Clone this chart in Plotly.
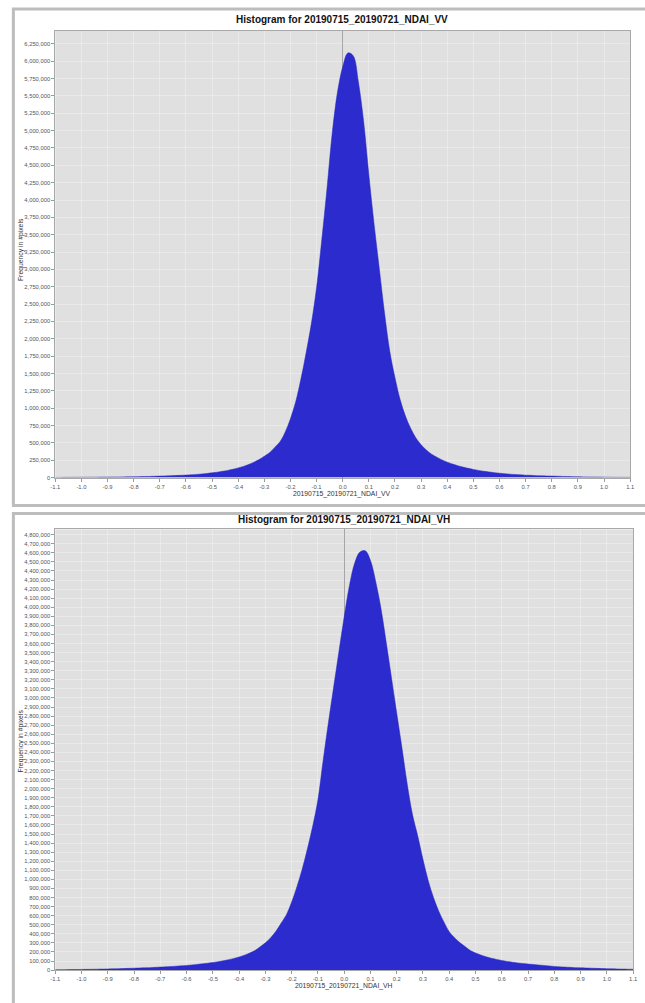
import numpy as np
import plotly.graph_objects as go

# ---------------- data ----------------
bin_centers = np.round(np.arange(-1.10, 1.1001, 0.02), 2)

vv_counts = [
    2000, 2500, 3000, 3500, 4000, 4500, 5000, 5500, 6000, 7000,
    7500, 8500, 9000, 10000, 11000, 12000, 13500, 15000, 16500, 18500,
    21000, 23500, 26000, 29000, 32000, 36000, 40000, 45000, 51000, 59000,
    68000, 78000, 90000, 103000, 120000, 139000, 161000, 188000, 221000, 259000,
    308000, 359000, 435000, 517000, 657000, 848000, 1091000, 1420000, 1800000, 2220000,
    2740000, 3430000, 4170000, 4970000, 5555000, 5920000, 6120000, 6080000, 5700000, 5130000,
    4360000, 3650000, 3010000, 2370000, 1820000, 1440000, 1120000, 886000, 709000, 572000,
    473000, 397000, 337000, 294000, 255000, 222000, 195000, 171000, 151000, 133000,
    117000, 103000, 91000, 81000, 71000, 63000, 56000, 49000, 44000, 40000,
    35000, 32000, 28000, 25000, 23000, 21000, 19000, 17000, 15000, 13000,
    12000, 10000, 9000, 8000, 7000, 6000, 5000, 4000, 4000, 3000,
    3000,
]

vh_counts = [
    4000, 4500, 5000, 5500, 6000, 7000, 8000, 9000, 10000, 11000,
    12000, 14000, 15000, 17000, 19000, 21000, 23000, 25000, 27000, 30000,
    33000, 36000, 39000, 43000, 47000, 51000, 56500, 62300, 68600, 75600,
    83400, 92500, 103000, 115000, 129000, 144000, 164000, 188000, 215000, 257000,
    301000, 357000, 428000, 518000, 611000, 750000, 920000, 1112000, 1338000, 1585000,
    1879000, 2314000, 2730000, 3123000, 3513000, 3894000, 4239000, 4487000, 4608000, 4622000,
    4516000, 4281000, 3985000, 3610000, 3221000, 2832000, 2448000, 2048000, 1714000, 1478000,
    1218000, 985000, 800000, 650000, 528000, 422000, 357000, 303000, 260000, 216000,
    189000, 166000, 146000, 131000, 118000, 106000, 95700, 86500, 79300, 72700,
    66600, 61000, 56000, 51000, 45700, 40600, 36200, 33000, 30000, 27000,
    25000, 23000, 21000, 19000, 17000, 15000, 14000, 12000, 11000, 10000,
    9000,
]

x_tick_vals = [-1.1, -1.0, -0.9, -0.8, -0.7, -0.6, -0.5, -0.4, -0.3, -0.2, -0.1,
               0.0, 0.1, 0.2, 0.3, 0.4, 0.5, 0.6, 0.7, 0.8, 0.9, 1.0, 1.1]
x_tick_text = ["-1.1", "-1.0", "-0.9", "-0.8", "-0.7", "-0.6", "-0.5", "-0.4", "-0.3", "-0.2", "-0.1",
               "0.0", "0.1", "0.2", "0.3", "0.4", "0.5", "0.6", "0.7", "0.8", "0.9", "1.0", "1.1"]

vv_title = "Histogram for 20190715_20190721_NDAI_VV"
vh_title = "Histogram for 20190715_20190721_NDAI_VH"
vv_xlabel = "20190715_20190721_NDAI_VV"
vh_xlabel = "20190715_20190721_NDAI_VH"
y_label = "Frequency in #pixels"

# ---------------- layout constants ----------------
W, H = 645, 1003
FONT = "Liberation Sans, Arial, sans-serif"
BAR_FILL = "rgb(43,43,206)"
BAR_EDGE = "rgb(36,36,190)"
PLOT_BG = "#E0E0E0"
GRID = "rgba(248,248,248,0.4)"


def py(px):
    return 1 - px / H


def px_(x):
    return x / W


fig = go.Figure()

fig.add_trace(go.Scatter(
    x=bin_centers, y=vv_counts, mode="lines", fill="tozeroy",
    line=dict(color=BAR_EDGE, width=0.5, shape="spline", smoothing=1.0),
    fillcolor=BAR_FILL, xaxis="x", yaxis="y", showlegend=False, hoverinfo="skip"))

fig.add_trace(go.Scatter(
    x=bin_centers, y=vh_counts, mode="lines", fill="tozeroy",
    line=dict(color=BAR_EDGE, width=0.5, shape="spline", smoothing=1.0),
    fillcolor=BAR_FILL, xaxis="x2", yaxis="y2", showlegend=False, hoverinfo="skip"))

tickfont = dict(family=FONT, size=5.8, color="#555555")

common_x = dict(
    range=[-1.1, 1.1], tickmode="array", tickvals=x_tick_vals, ticktext=x_tick_text,
    ticks="outside", ticklen=3, tickcolor="#9A9A9A", tickfont=tickfont,
    showgrid=True, gridcolor=GRID, gridwidth=1,
    showline=True, linecolor="#A8A8A8", linewidth=1, mirror=True,
    zeroline=True, zerolinecolor="#A6A6A6", zerolinewidth=1, fixedrange=True,
)
common_y = dict(
    tickformat=",d", ticks="outside", ticklen=3, tickcolor="#9A9A9A", tickfont=tickfont,
    showgrid=True, gridcolor=GRID, gridwidth=1,
    showline=True, linecolor="#A8A8A8", linewidth=1, mirror=True,
    zeroline=False, fixedrange=True,
)

fig.update_layout(
    width=W, height=H, autosize=False,
    margin=dict(l=0, r=0, t=0, b=0),
    paper_bgcolor="white", plot_bgcolor=PLOT_BG,
    showlegend=False,
    xaxis=dict(domain=[px_(51), px_(634)], anchor="y", **common_x),
    yaxis=dict(domain=[py(479), py(31)], anchor="x", range=[0, 6437000],
               tick0=0, dtick=250000, **common_y),
    xaxis2=dict(domain=[px_(51), px_(637)], anchor="y2", **common_x),
    yaxis2=dict(domain=[py(973), py(531)], anchor="x2", range=[0, 4858000],
                tick0=0, dtick=100000, **common_y),
)

# panel frames
frame = dict(color="#BDBDBD", width=3)
fig.add_shape(type="rect", xref="paper", yref="paper",
              x0=px_(8.5), x1=1.05, y0=py(507), y1=py(9), line=frame, layer="below")
fig.add_shape(type="rect", xref="paper", yref="paper",
              x0=px_(8.5), x1=1.05, y0=py(1015), y1=py(515), line=frame, layer="below")

# titles
title_font = dict(family=FONT, size=10, color="#111111")
label_font = dict(family=FONT, size=6.8, color="#333333")
fig.add_annotation(text="<b>" + vv_title + "</b>", xref="paper", yref="paper",
                   x=px_(342), y=py(20), showarrow=False, font=title_font,
                   xanchor="center", yanchor="middle")
fig.add_annotation(text="<b>" + vh_title + "</b>", xref="paper", yref="paper",
                   x=px_(344), y=py(521), showarrow=False, font=title_font,
                   xanchor="center", yanchor="middle")
fig.add_annotation(text=vv_xlabel, xref="paper", yref="paper",
                   x=px_(342), y=py(495), showarrow=False, font=label_font,
                   xanchor="center", yanchor="middle")
fig.add_annotation(text=vh_xlabel, xref="paper", yref="paper",
                   x=px_(344), y=py(989), showarrow=False, font=label_font,
                   xanchor="center", yanchor="middle")
fig.add_annotation(text=y_label, xref="paper", yref="paper",
                   x=px_(16), y=py(250), showarrow=False, font=label_font,
                   textangle=-90, xanchor="center", yanchor="middle")
fig.add_annotation(text=y_label, xref="paper", yref="paper",
                   x=px_(16), y=py(743), showarrow=False, font=label_font,
                   textangle=-90, xanchor="center", yanchor="middle")

fig.write_html(
    "out.html",
    config={"displayModeBar": False},
    post_script="document.body.style.margin='0';document.body.style.overflow='hidden';",
)
